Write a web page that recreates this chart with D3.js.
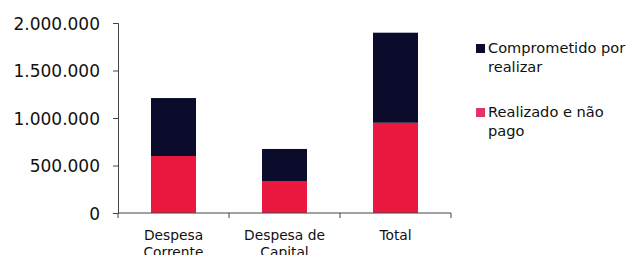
<!DOCTYPE html>
<html><head><meta charset="utf-8">
<script src="https://cdn.jsdelivr.net/npm/d3@7"></script>
<style>body{margin:0;background:#fff}svg{display:block}</style>
</head><body>
<script>
const categories = [["Despesa","Corrente"],["Despesa de","Capital"],["Total"]];
const realizado = [600000, 337000, 950000];
const comprometido = [610000, 337000, 948000];
const seriesNames = [["Comprometido por","realizar"],["Realizado e não","pago"]];
const yTicks = [0, 500000, 1000000, 1500000, 2000000];

const W = 629, H = 255;
const svg = d3.select("body").append("svg").attr("width", W).attr("height", H);
const font = "DejaVu Sans, Verdana, sans-serif";
const dark = "#0b0b2c", red = "#ea183f";

const x = d3.scaleBand().domain(d3.range(categories.length)).range([118, 451]).paddingInner(0).paddingOuter(0);
const y = d3.scaleLinear().domain([0, 2000000]).range([213, 23]);
const loc = d3.formatLocale({decimal: ",", thousands: ".", grouping: [3], currency: ["", ""]});
const fmt = loc.format(",d");

// y axis
const ya = svg.append("g").attr("transform", "translate(118,0)")
  .call(d3.axisLeft(y).tickValues(yTicks).tickFormat(fmt).tickSizeInner(5).tickSizeOuter(5).tickPadding(13));
ya.select(".domain").attr("stroke", "#444");
ya.selectAll(".tick line").attr("stroke", "#444");
ya.selectAll(".tick text").attr("font-family", font).attr("font-size", 17).attr("fill", "#111").attr("dy", "0.36em");

// bars
const bw = 45;
const g = svg.append("g");
categories.forEach((c, i) => {
  const cx = x(i) + x.bandwidth() / 2;
  g.append("rect").attr("x", cx - bw / 2).attr("width", bw)
    .attr("y", y(realizado[i])).attr("height", y(0) - y(realizado[i])).attr("fill", red);
  g.append("rect").attr("x", cx - bw / 2).attr("width", bw)
    .attr("y", y(realizado[i] + comprometido[i])).attr("height", y(realizado[i]) - y(realizado[i] + comprometido[i])).attr("fill", dark);
});

// x axis
const xa = svg.append("g");
xa.append("line").attr("x1", x.range()[0]).attr("x2", x.range()[1]).attr("y1", y(0)).attr("y2", y(0)).attr("stroke", "#444");
d3.range(categories.length + 1).forEach(i => {
  const xx = x.range()[0] + i * x.bandwidth();
  xa.append("line").attr("x1", xx).attr("x2", xx).attr("y1", y(0)).attr("y2", y(0) + 5).attr("stroke", "#444");
});
categories.forEach((c, i) => {
  const t = xa.append("text").attr("x", x(i) + x.bandwidth() / 2).attr("y", 240)
    .attr("text-anchor", "middle").attr("font-family", font).attr("font-size", 13.8).attr("fill", "#111");
  c.forEach((line, j) => t.append("tspan").attr("x", x(i) + x.bandwidth() / 2).attr("dy", j ? 17 : 0).text(line));
});

// legend
const leg = svg.append("g");
const legColors = [dark, "#e2346a"];
const legY = [48, 112];
seriesNames.forEach((n, i) => {
  leg.append("rect").attr("x", 476).attr("y", legY[i] - 4).attr("width", 9).attr("height", 9).attr("fill", legColors[i]);
  const t = leg.append("text").attr("x", 488).attr("y", legY[i] + 5)
    .attr("font-family", font).attr("font-size", 14.6).attr("fill", "#111");
  n.forEach((line, j) => t.append("tspan").attr("x", 488).attr("dy", j ? 18.5 : 0).text(line));
});
</script>
</body></html>
